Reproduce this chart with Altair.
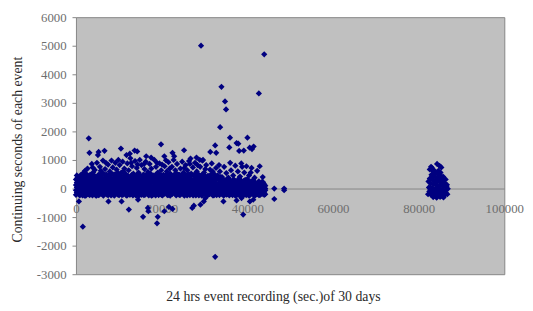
import altair as alt
import pandas as pd

# Isolated outliers and sparse points (x = seconds of day, y = duration)
outliers = [
    (29200, 5000), (43950, 4700), (33970, 3560), (42700, 3330), (34800, 3050),
    (35040, 2770), (33660, 2150), (2990, 1760), (35960, 1780), (40030, 1780),
    (32500, 1510), (19860, 1550), (37500, 1590), (35800, 1440), (41480, 1470),
    (41100, 1380), (39180, 1330), (10500, 1400), (13700, 1330), (14300, 1300),
    (6670, 1320), (25240, 1340), (3150, 1250), (37900, 1570), (38100, 1315),
    (40560, 1430), (32740, 1250), (31360, 1280), (5130, 1170), (5290, 1280),
    (22540, 1250), (22930, 1130), (11800, 1170), (12580, 1220), (16400, 1130),
    (17550, 1085), (20630, 1130), (21000, 990), (26750, 1050), (28910, 1000),
    (29670, 1000), (28140, 1085), (32500, -2390), (1610, -1336), (18930, -1220),
    (19100, -990), (15670, -990), (39040, -910), (22540, -713), (21700, -644),
    (12350, -737), (16790, -678), (16900, -796), (20630, -796), (27150, -678),
    (27530, -600), (34430, -450), (46300, -367), (690, -450), (7590, -450),
    (10650, -450), (14500, -391), (29840, -450), (30220, -333), (29060, -564),
    (37500, -415), (38650, -333), (40600, -450), (41400, -391), (46300, 0),
    (48600, 0), (48600, -60),
]

# Scattered mid-level events above the dense band
mid = [
    (1200, 420), (1800, 560), (2400, 380), (2700, 700), (3300, 480), (3700, 860),
    (4000, 560), (4400, 650), (4900, 900), (5200, 420), (5600, 760), (6100, 560),
    (6300, 980), (6800, 680), (7200, 450), (7500, 840), (7900, 600), (8300, 980),
    (8600, 740), (8900, 500), (9200, 900), (9500, 660), (9900, 1000), (10200, 820),
    (10600, 560), (10900, 940), (11300, 700), (11600, 480), (12000, 880), (12300, 640),
    (12700, 1060), (13100, 780), (13400, 520), (13800, 960), (14200, 720), (14600, 560),
    (14900, 1000), (15300, 820), (15700, 480), (16000, 680), (16300, 940), (16800, 580),
    (17200, 860), (17600, 700), (18000, 460), (18300, 1000), (18700, 760), (19100, 560),
    (19500, 880), (19900, 640), (20300, 460), (20700, 780), (21200, 600), (21600, 920),
    (22000, 520), (22400, 760), (22800, 1000), (23200, 640), (23600, 860), (24000, 480),
    (24400, 700), (24800, 940), (25100, 560), (25600, 820), (26000, 640), (26400, 960),
    (26900, 520), (27300, 740), (27800, 900), (28200, 600), (28600, 460), (29000, 760),
    (29500, 980), (29900, 560), (30400, 820), (30800, 440), (31300, 660), (31700, 880),
    (32200, 520), (32700, 720), (33100, 460), (33600, 600), (34100, 400), (34600, 760),
    (35100, 540), (35600, 380), (36200, 640), (36700, 460), (37200, 800), (37800, 600),
    (38300, 420), (38800, 760), (39300, 560), (39800, 780), (40400, 460), (41000, 720),
    (41700, 380), (42300, 620), (42900, 780), (43600, 400),
    (2100, 620), (3900, 740), (5800, 620), (7000, 900), (8100, 520), (9700, 560),
    (11100, 600), (12900, 900), (14400, 840), (15900, 860), (17400, 520), (18900, 900),
    (20100, 840), (21900, 700), (23400, 540), (25300, 720), (26600, 860), (28400, 820),
    (30200, 680), (31900, 600), (33400, 820), (36000, 900), (38600, 880), (40800, 560),
]

# Dense band near zero: each row is an x position with four y readings
band = [
    (0, 320, 120, -60, -220), (400, 180, 20, -150, 380), (900, 260, -40, -240, 90),
    (1300, 400, 150, -100, -20), (1800, 60, -180, 280, 190), (2300, 340, -90, 110, -250),
    (2700, 200, -10, -170, 420), (3200, 130, -230, 300, 40), (3600, 380, -120, 220, -30),
    (4100, 80, -200, 160, 350), (4600, 290, -60, -240, 140), (5000, 410, 30, -150, 230),
    (5500, 170, -100, 340, -210), (5900, 260, 60, -180, 400), (6400, 100, -250, 320, -40),
    (6900, 360, 190, -120, 20), (7300, 240, -70, -220, 130), (7800, 390, 80, -160, 270),
    (8200, 150, -30, -240, 330), (8700, 300, -130, 50, 200), (9200, 420, 100, -200, -50),
    (9600, 210, -160, 350, 0), (10100, 280, 70, -230, 150), (10500, 380, -90, 240, -190),
    (11000, 120, -210, 310, 40), (11500, 260, -40, -150, 410), (11900, 340, 160, -250, -10),
    (12400, 90, -120, 230, 370), (12800, 300, 10, -190, 140), (13300, 400, -70, 200, -240),
    (13800, 180, -170, 330, 60), (14200, 250, -20, -230, 390), (14700, 340, 120, -110, -250),
    (15100, 60, -200, 280, 170), (15600, 410, 30, -140, 230), (16100, 200, -90, 350, -220),
    (16500, 310, 80, -170, -30), (17000, 140, -240, 260, 400), (17400, 370, -60, 190, 10),
    (17900, 230, -150, 330, -230), (18400, 100, 40, -200, 290), (18800, 400, -110, 170, -20),
    (19300, 260, -230, 340, 60), (19700, 150, -60, -160, 380), (20200, 320, 90, -240, 200),
    (20700, 420, -30, 130, -180), (21100, 180, -140, 300, 20), (21600, 270, 60, -220, 390),
    (22000, 350, -80, 150, -250), (22500, 110, -190, 280, 40), (23000, 400, 10, -130, 230),
    (23400, 220, -240, 330, 100), (23900, 300, -50, -180, 410), (24300, 160, 120, -230, -20),
    (24800, 380, -100, 250, 30), (25300, 240, -170, 340, -250), (25700, 90, 50, -200, 300),
    (26200, 360, -60, 180, -140), (26600, 200, -230, 410, 20), (27100, 290, 80, -150, -40),
    (27600, 130, -200, 320, 230), (28000, 400, -30, 170, -240), (28500, 250, 60, -160, 350),
    (28900, 340, -110, 200, -10), (29400, 150, -250, 280, 60), (29900, 380, 20, -140, 220),
    (30300, 230, -180, 320, -40), (30800, 100, 70, -230, 390), (31200, 310, -60, 150, -200),
    (31700, 200, -150, 360, 10), (32200, 280, 40, -240, -90), (32600, 120, -200, 330, 200),
    (33100, 370, -20, -150, 90), (33500, 210, -230, 280, -60), (34000, 60, 150, -180, 330),
    (34500, 300, -90, -250, 20), (34900, 170, -150, 260, -10), (35400, 350, 40, -200, 110),
    (35800, 100, -120, -240, 230), (36300, 250, -30, -180, 60), (36800, 150, -200, 320, -70),
    (37200, 40, -150, 210, -250), (37700, 280, -60, -210, 100), (38100, 130, -230, 360, 0),
    (38600, 200, -100, -170, 50), (39100, 70, -240, 260, -30), (39500, 300, -140, -60, 120),
    (40000, 160, -200, 20, 330), (40400, 90, -120, -250, 230), (40900, 250, -30, -180, 40),
    (41400, 120, -210, -80, 300), (41800, 30, -150, 200, -250), (42300, 180, -60, -200, 90),
    (42700, 60, -230, 250, -120), (43200, 140, -90, -180, 20), (43700, 50, -160, 220, -40),
    (44200, 100, -60, -200, 0),
    (200, 40, -140, 210, 460), (650, 300, -90, 110, -200), (1100, -160, 60, 250, 470),
    (1550, -60, 210, 340, -240), (2050, 120, -250, 460, 20), (2500, -130, 80, 260, 500),
    (2950, 350, -70, 180, -200), (3400, -20, 240, 460, -170), (3850, 50, -240, 300, 500),
    (4350, -130, 200, 440, 30), (4800, -80, 120, 330, -250), (5250, 90, -230, 260, 480),
    (5700, -40, 220, 470, 110), (6150, -150, 160, 330, -60), (6650, 40, 240, 480, -200),
    (7100, -140, 80, 290, 500), (7550, 30, -230, 180, 330), (8000, -90, 220, 460, 40),
    (8450, 90, -200, 250, 500), (8950, -40, 160, 380, -250), (9400, 30, -120, 280, 480),
    (9850, -60, 120, 440, -220), (10300, 200, -150, 0, 470), (10750, 60, -230, 150, 320),
    (11250, -100, 200, 460, -40), (11700, 90, -230, 300, 500), (12150, -60, 60, 220, 440),
    (12600, -220, 150, 380, 0), (13050, -100, 110, 250, 480), (13550, 40, -200, 310, 460),
    (14000, -70, 120, 420, -240), (14450, 40, -150, 180, 500), (14900, -30, 220, 470, 100),
    (15350, -130, 90, 330, -220), (15850, 120, -230, 260, 480), (16300, -40, 160, 450, 0),
    (16750, 40, -140, 220, 500), (17200, -200, 90, 300, 460), (17650, 60, -100, 450, -250),
    (18100, -70, 200, 360, 20), (18600, 150, -240, 290, 480), (19050, -60, 80, 210, 440),
    (19500, 40, -130, 300, 500), (19950, -220, 130, 450, -20), (20450, 0, 180, -130, 480),
    (20900, -60, 240, 460, 80), (21350, 70, -230, 330, 500), (21800, -140, 150, 440, -20),
    (22250, 10, 200, -100, 480), (22750, -60, 250, 460, 130), (23200, 60, -150, 180, 500),
    (23650, -100, 40, 260, 460), (24100, 30, -220, 330, 480), (24550, -50, 190, 460, -180),
    (25050, 100, -130, 0, 500), (25500, -90, 180, 450, -20), (25950, 30, -240, 250, 480),
    (26400, -100, 110, 330, 500), (26850, 40, -180, 200, 440), (27350, -70, 150, 470, -240),
    (27800, 60, -130, 270, 500), (28250, -180, 120, 450, 0), (28700, 40, -240, 300, 480),
    (29150, -50, 150, 440, -200), (29650, 60, -140, 260, 500), (30050, -100, 120, 460, 40),
    (30550, 20, -240, 180, 340), (31000, -120, 200, 430, 30), (31450, 50, -160, 260, 480),
    (31950, -50, 110, 330, -240), (32400, 60, -130, 200, 450), (32850, -80, 150, 420, -230),
    (33300, 40, -150, 120, 330), (33750, -100, 60, 200, 400), (34250, -40, 120, -200, 260),
    (34700, 80, -170, 180, -60), (35150, -50, 120, 260, -210), (35600, 30, -180, 170, -80),
    (36050, 120, -120, 0, 280), (36550, -60, 60, -230, 160), (37000, 110, -40, 290, -180),
    (37450, -100, 40, 180, -220), (37900, 60, -150, 220, -40), (38350, -60, 90, -230, 300),
    (38850, 20, -140, 150, -70), (39300, 100, -200, 0, 230), (39750, -40, 60, -230, 180),
    (40200, 60, -90, 250, -160), (40650, -40, 150, -220, 60), (41150, 40, -120, 200, -20),
    (41600, -60, 100, -200, 240), (42050, 20, -180, 120, -90), (42500, -40, 100, -170, 210),
    (42950, 40, -230, 160, -60), (43450, -100, 60, 230, -190), (43950, 20, -120, 150, -220),
]

# Late-night cluster around 82000-87000 s
cluster = [
    (84300, 860), (84900, 790), (82900, 760), (82600, 670), (83500, 650),
    (83100, 720), (85300, 740), (83400, 600), (84000, 560), (84800, 520),
    (83000, 480), (83700, 430), (84500, 400), (85200, 380), (82600, 350),
    (83300, 300), (84100, 270), (84800, 250), (85500, 230), (86000, 200),
    (82800, 180), (83500, 150), (84300, 120), (85000, 100), (85800, 80),
    (86500, 60), (82400, 40), (83100, 20), (83900, 0), (84600, -20),
    (85400, -40), (86200, -60), (86800, -10), (82500, -100), (83200, -130),
    (84000, -150), (84700, -120), (85500, -170), (86300, -140), (82200, -200),
    (82900, -220), (83700, -250), (84500, -230), (85200, -270), (86000, -240),
    (86700, -200), (83400, -300), (84200, -320), (85000, -290), (85800, -310),
    (84400, 350), (85700, 420), (83900, 230), (85100, 560), (86300, 320),
    (82300, 250), (84500, -60), (83000, -40), (85900, -80), (86600, 130),
    (83800, 500), (84600, 620), (85000, 450), (83200, 400), (84200, 30),
    (85300, 150), (82700, -20), (83600, -80), (85600, 300), (86100, -150),
]

x_ticks = [0, 20000, 40000, 60000, 80000, 100000]
y_ticks = [-3000, -2000, -1000, 0, 1000, 2000, 3000, 4000, 5000, 6000]

rows = []
for x, y in outliers + mid + cluster:
    rows.append({"t": x, "d": y})
for x, *ys in band:
    for y in ys:
        rows.append({"t": x, "d": y})
df = pd.DataFrame(rows)

FONT = "Liberation Serif, Times New Roman, serif"

chart = alt.Chart(df).mark_point(
    shape="diamond", filled=True, size=40, color="#000080", opacity=1
).encode(
    x=alt.X("t:Q",
            scale=alt.Scale(domain=[0, 100000], nice=False, zero=False),
            axis=alt.Axis(
                values=x_ticks, offset=-87, grid=False, ticks=False,
                domainColor="#858585", domainWidth=1,
                labelPadding=14, labelFlush=False, labelOverlap=False,
                labelColor="#6e6e6e", labelFont=FONT, labelFontSize=13,
                labelExpr="'' + datum.value",
                title="24 hrs event recording (sec.)of 30 days",
                titleFont=FONT, titleFontSize=14, titleFontWeight="normal",
                titleColor="#2a2a2a", titleX=200, titleY=110,
                titleBaseline="middle", titleAlign="center")),
    y=alt.Y("d:Q",
            scale=alt.Scale(domain=[-3000, 6000], nice=False, zero=False),
            axis=alt.Axis(
                values=y_ticks, grid=False, ticks=True, tickSize=4,
                tickColor="#858585", domain=False,
                labelPadding=6, labelColor="#6e6e6e", labelFont=FONT,
                labelFontSize=13, labelExpr="'' + datum.value",
                title="Continuing seconds of each event",
                titleFont=FONT, titleFontSize=14, titleFontWeight="normal",
                titleColor="#2a2a2a", titleX=-59, titleY=134,
                titleBaseline="middle", titleAlign="center", titleAngle=270)),
).properties(
    width=435, height=261,
    autosize=alt.AutoSizeParams(type="none"),
    padding={"left": 69, "top": 7, "right": 21, "bottom": 32},
    background="white",
).configure_view(
    fill="#C0C0C0", stroke="#858585", strokeWidth=1
)

chart.save("out.html", embed_options={"renderer": "svg", "actions": False})
